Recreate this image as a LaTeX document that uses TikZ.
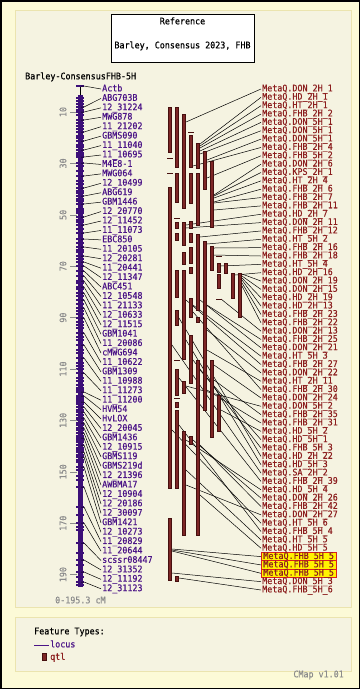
\documentclass[tikz,border=0pt]{standalone}
\usepackage{fontspec}
\setmainfont[FakeStretch=0.92,FakeBold=0.4]{DejaVu Sans Mono}
\usepackage{tikz}
\definecolor{pagebg}{RGB}{252,250,215}
\definecolor{panelbg}{RGB}{245,243,225}
\definecolor{panelrule}{RGB}{235,228,175}
\definecolor{locuscol}{RGB}{75,20,135}
\definecolor{axiscol}{RGB}{60,15,120}
\definecolor{qtlcol}{RGB}{140,30,30}
\definecolor{qtlfill}{RGB}{125,38,38}
\definecolor{qtlrule}{RGB}{70,15,15}
\definecolor{hlred}{RGB}{220,30,30}
\definecolor{tickgray}{RGB}{140,140,140}
\tikzstyle{lbl}=[inner xsep=1pt, inner ysep=0.2pt, text height=6.3pt, text depth=1.6pt, font=\fontsize{9.1}{10}\selectfont]
\tikzstyle{locuslbl}=[lbl, anchor=west, text=locuscol]
\tikzstyle{qtllbl}=[lbl, anchor=west, text=qtlcol]
\tikzstyle{qtlhl}=[qtllbl, fill=yellow, draw=hlred, line width=0.8pt, inner xsep=2pt]
\tikzstyle{graytext}=[lbl, text=tickgray]
\tikzstyle{leader}=[black, line width=0.5pt]
\tikzstyle{qtlbar}=[fill=qtlfill, draw=qtlrule, line width=0.5pt]
\tikzstyle{locusmark}=[fill=axiscol]
\tikzstyle{panel}=[fill=panelbg, draw=panelrule, line width=1pt]

\begin{document}
\begin{tikzpicture}[x=1pt,y=-1pt]
\useasboundingbox (0,0) rectangle (360,689);
\fill[pagebg] (0,0) rectangle (360,689);
\draw[line width=1.5pt] (0.75,0.75) rectangle (359.25,688.25);
\draw[panel] (15,10) rectangle (351,607);
\draw[panel] (15,617) rectangle (351,671);
\node[draw, fill=white, inner sep=0pt, minimum width=143pt, minimum height=48pt] (title) at (182.5,38) {};
\node[lbl] (ref) at (182.5,22) {Reference};
\node[lbl] (mapset) at (182.5,46) {Barley, Consensus 2023, FHB};
\node[lbl, anchor=west] (mapname) at (24,77) {Barley-ConsensusFHB-5H};
\node[graytext, anchor=west] (range) at (54,601) {0-195.3 cM};
\draw[black, line width=1pt] (80,86) -- (80,95);
\fill[axiscol] (77.5,95) rectangle (82.5,587);
\foreach \p in {98,101,104,110,115,123,126,129,136,138,145,147,153,155,166,171,181,184,191,193,199,201,209,211,213,220,222,229,243,250,252,259,283,289,296,304,311,314,322,325,328,337,340,350,353,363,366,369,378,381,385,388,390,398,400,404,410,415,420,425,430,436,440,442,448,450,455,460,462,470,476,480,515,527,530,553,565,577,585}
  \fill[locusmark] (76,{\p-1.2}) rectangle (84,{\p+1.2});
\foreach \c in {10,30,...,190} {
  \draw[tickgray] (70,{86.3+2.57*\c}) -- (77,{86.3+2.57*\c});
  \node[graytext, rotate=90] (tick\c) at (64,{86.3+2.57*\c}) {\c};
}
\foreach \n/\p [count=\i] in {Actb/86, ABG703B/107, 12\_31224/112, MWG878/120, 11\_21202/132, GBMS090/141, 11\_11040/150, 11\_10695/157, M4E8-1/163, MWG064/176, 12\_10499/188, ABG619/196, GBM1446/204, 12\_20770/217, 12\_11452/225, 11\_11073/233, EBC850/239, 11\_20105/247, 12\_20281/256, 11\_20441/262, 12\_11347/266, ABC451/271, 12\_10548/276, 11\_21133/281, 12\_10633/287, 12\_11515/293, GBM1041/300, 11\_20086/308, cMWG694/318, 11\_10622/333, GBM1309/345, 11\_10988/358, 11\_11273/373, 11\_11200/392, HVM54/396, HvLOX/402, 12\_20045/407, GBM1436/412, 12\_10915/418, GBMS119/423, GBMS219d/428, 12\_21396/433, AWBMA17/438, 12\_10904/445, 12\_20186/452, 12\_30097/457, GBM1421/467, 12\_10273/487, 11\_20829/507, 11\_20644/523, scssr08447/543, 12\_31352/560, 12\_11192/572, 12\_31123/582} {
  \node[locuslbl] (loc\i) at (101,{89+9.43*(\i-1)}) {\n};
  \coordinate (ax\i) at (81,\p);
  \fill[locusmark] (76,{\p-1.3}) rectangle (84,{\p+1.3});
  \draw[leader] (ax\i) -- ++(3,0) -- (loc\i.west);
}
\foreach \t/\sx/\sy/\s [count=\i] in {DON\_2H\_1/186/122/qtllbl, HD\_2H\_1/200/144/qtllbl, HT\_2H\_1/200/146/qtllbl, FHB\_2H\_2/200/148/qtllbl, DON\_5H\_1/200/151/qtllbl, DON\_5H\_1/200/154/qtllbl, DON\_5H\_1/207/160/qtllbl, FHB\_2H\_4/193/166/qtllbl, FHB\_5H\_2/207/178/qtllbl, DON\_2H\_6/214/195/qtllbl, KPS\_2H\_1/214/196/qtllbl, HT\_2H\_4/214/198/qtllbl, FHB\_2H\_6/214/202/qtllbl, FHB\_2H\_7/214/203/qtllbl, FHB\_2H\_11/214/210/qtllbl, HD\_2H\_7/186/225/qtllbl, DON\_2H\_11/186/228/qtllbl, FHB\_2H\_12/200/237/qtllbl, HT\_5H\_2/207/244/qtllbl, FHB\_2H\_16/214/248/qtllbl, FHB\_2H\_18/214/255/qtllbl, HT\_5H\_4/221/266/qtllbl, HD\_2H\_16/235/275/qtllbl, DON\_2H\_19/242/274/qtllbl, DON\_2H\_15/242/276/qtllbl, HD\_2H\_19/242/278/qtllbl, HD\_2H\_13/242/280/qtllbl, FHB\_2H\_23/242/283/qtllbl, FHB\_2H\_22/242/286/qtllbl, DON\_2H\_13/221/299/qtllbl, FHB\_2H\_25/207/305/qtllbl, DON\_2H\_21/200/300/qtllbl, HT\_5H\_3/193/305/qtllbl, FHB\_2H\_27/186/300/qtllbl, DON\_2H\_22/207/330/qtllbl, HT\_2H\_11/207/350/qtllbl, FHB\_2H\_30/193/312/qtllbl, DON\_2H\_24/214/365/qtllbl, DON\_5H\_2/186/386/qtllbl, FHB\_2H\_35/214/380/qtllbl, FHB\_2H\_31/207/390/qtllbl, HD\_5H\_2/221/410/qtllbl, HD\_5H\_1/200/370/qtllbl, FHB\_5H\_3/193/360/qtllbl, HD\_2H\_22/179/318/qtllbl, HD\_5H\_3/186/340/qtllbl, SA\_2H\_2/172/345/qtllbl, FHB\_2H\_39/179/378/qtllbl, HD\_5H\_4/186/440/qtllbl, DON\_2H\_26/193/440/qtllbl, FHB\_2H\_42/200/445/qtllbl, DON\_2H\_27/186/485/qtllbl, HT\_5H\_6/172/430/qtllbl, FHB\_5H\_4/179/425/qtllbl, HT\_5H\_5/186/470/qtllbl, HD\_5H\_5/200/495/qtllbl, FHB\_5H\_5/172/549/qtlhl, FHB\_5H\_5/172/550/qtlhl, FHB\_5H\_5/172/551/qtlhl, DON\_5H\_3/172/573/qtllbl, FHB\_5H\_6/179/578/qtllbl} {
  \node[\s] (qtl\i) at (261,{89+8.35*(\i-1)}) {MetaQ.\t};
  \coordinate (src\i) at (\sx,\sy);
  \draw[leader] (src\i) -- (qtl\i.west);
}
\foreach \c/\a/\b in {1/107/152, 1/187/488, 1/518/580, 2/107/167, 2/173/202, 2/222/228, 2/233/240, 2/270/297, 2/310/325, 2/369/395, 2/402/407, 2/410/488, 2/576/581, 3/114/208, 3/222/245, 3/252/264, 3/270/359, 3/381/393, 3/431/535, 4/135/167, 4/173/203, 4/221/228, 4/233/242, 4/247/263, 4/267/273, 4/298/317, 4/335/383, 4/436/444, 5/143/168, 5/173/225, 5/234/310, 5/317/322, 5/360/535, 6/151/189, 6/241/410, 7/161/227, 7/246/270, 7/360/437, 8/263/272, 8/274/288, 8/395/431, 9/263/273, 10/273/298, 11/273/317}
  \draw[qtlbar] ({161.3+7*\c},\a) rectangle ({164.7+7*\c},\b);
\foreach \c/\a in {1/158, 1/173, 2/218, 4/132, 8/256, 8/299, 2/360, 2/398}
  \draw[qtlrule, line width=1pt] ({160+7*\c},\a) -- ({166+7*\c},\a);
\node[lbl, anchor=west] (ftypes) at (33,632) {Feature Types:};
\coordinate (locusline) at (34,645);
\node[lbl, anchor=west, text=locuscol] (locuskey) at (49,645) {locus};
\draw[locuscol, line width=0.8pt] (locusline) -- (locuskey.west);
\draw[qtlbar] (42.5,653.5) rectangle (46,660.5);
\node[lbl, anchor=west, text=qtlcol] (qtlkey) at (49,657.5) {qtl};
\node[graytext, anchor=east] (version) at (345,675) {CMap v1.01};
\end{tikzpicture}
\end{document}
